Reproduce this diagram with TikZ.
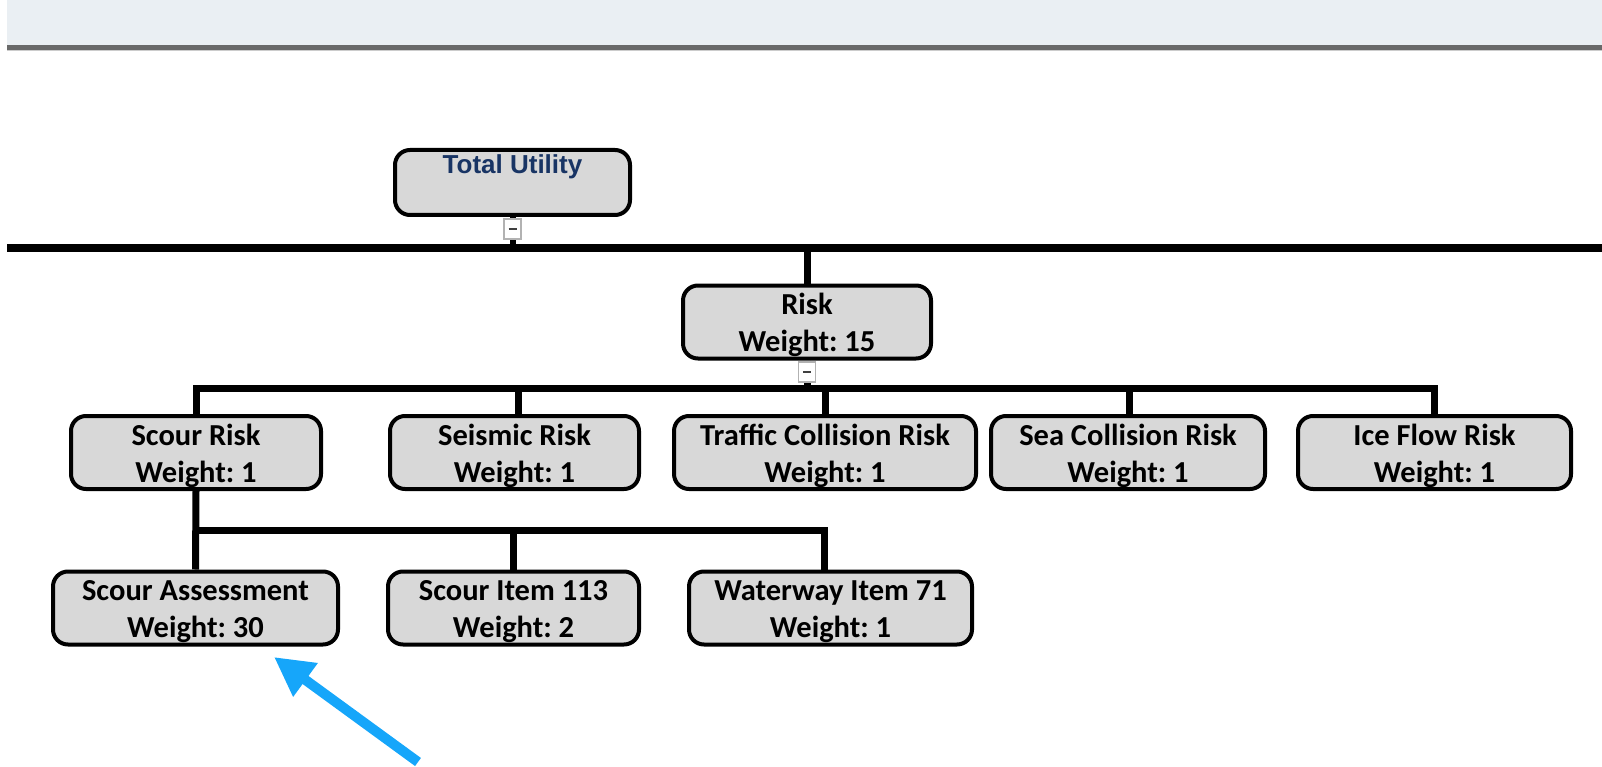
\documentclass[tikz,border=0pt]{standalone}
\usepackage{fontspec}
\newfontfamily\carl{Carlito}
\newfontfamily\libsans{Liberation Sans}
\usetikzlibrary{arrows.meta}
\definecolor{boxgray}{RGB}{216,216,216}
\definecolor{tublue}{RGB}{24,52,100}
\definecolor{hdrband}{RGB}{234,239,243}
\definecolor{hdrline}{RGB}{105,105,105}
\definecolor{arrblue}{RGB}{22,166,250}
\newcommand{\topstrut}{\rule{0pt}{28pt}}
\newcommand{\botstrut}{\rule[-6pt]{0pt}{6pt}}
\frenchspacing
\begin{document}
\begin{tikzpicture}[x=1pt,y=-1pt,
  nodebox/.style={draw=black, line width=4pt, fill=boxgray, rounded corners=15pt,
    minimum height=73pt, inner sep=0pt, align=center,
    font=\carl\bfseries\fontsize{30.5}{37}\selectfont\frenchspacing},
  conn/.style={draw=black, line width=7pt},
  colbox/.style={draw=gray!60, fill=white, line width=1.5pt, minimum width=17pt,
    minimum height=20pt, inner sep=0pt}]
\useasboundingbox (0,0) rectangle (1602,767);
% header band
\fill[hdrband] (7,0) rectangle (1602,45);
\fill[hdrline] (7,45) rectangle (1602,50);
\fill[gray!40] (7,50) rectangle (1602,51);

% nodes
\node[nodebox, minimum width=235pt, minimum height=65pt, text height=24pt, text depth=41pt,
  anchor=north, font=\libsans\bfseries\fontsize{26}{30}\selectfont, text=tublue]
  (tu) at (512.5,148) {Total Utility};
\node[nodebox, minimum width=248pt] (risk) at (807,322) {\topstrut Risk\\Weight: 15\botstrut};

\node[nodebox, minimum width=250pt] (scour) at (196,452.5) {\topstrut Scour Risk\\Weight: 1\botstrut};
\node[nodebox, minimum width=249pt] (seis) at (514.5,452.5) {\topstrut Seismic Risk\\Weight: 1\botstrut};
\node[nodebox, minimum width=302pt] (traf) at (825,452.5) {\topstrut Traffic Collision Risk\\Weight: 1\botstrut};
\node[nodebox, minimum width=274pt] (sea) at (1128,452.5) {\topstrut Sea Collision Risk\\Weight: 1\botstrut};
\node[nodebox, minimum width=273pt] (ice) at (1434.5,452.5) {\topstrut Ice Flow Risk\\Weight: 1\botstrut};

\node[nodebox, minimum width=285pt] (sa) at (195.5,608) {\topstrut Scour Assessment\\Weight: 30\botstrut};
\node[nodebox, minimum width=251pt] (si) at (513.5,608) {\topstrut Scour Item 113\\Weight: 2\botstrut};
\node[nodebox, minimum width=283pt] (ww) at (830.5,608) {\topstrut Waterway Item 71\\Weight: 1\botstrut};

% connectors
\coordinate (m0) at (7,248);
\coordinate (m1) at (1602,248);
\draw[conn, line width=8pt] (m0) -- (m1);
\draw[conn, line width=6pt] (tu.south) -- (tu.south |- m0);
\draw[conn] (risk.north) -- (risk.north |- m0);

\coordinate (a0) at (0,388);
\coordinate (s2) at (518,388);
\coordinate (s4) at (1129,388);
\draw[conn] (scour.north) -- (scour.north |- a0) -- (ice.north |- a0) -- (ice.north);
\draw[conn] (risk.south) -- (risk.south |- a0);
\draw[conn] (s2) -- (s2 |- seis.north);
\draw[conn] (traf.north |- a0) -- (traf.north);
\draw[conn] (s4) -- (s4 |- sea.north);

\coordinate (b2) at (513,530);
\coordinate (b3) at (824,530);
\draw[conn] (scour.south) -- (sa.north);
\draw[conn] (scour.south |- b3) -- (b3) -- (b3 |- ww.north);
\draw[conn] (b2) -- (b2 |- si.north);

% collapse markers
\node[colbox] (c1) at (512.5,229) {\textcolor{darkgray}{\rule{8pt}{2pt}}};
\node[colbox] (c2) at (807,372) {\textcolor{darkgray}{\rule{8pt}{2pt}}};

% blue arrow
\coordinate (at) at (418,762);
\coordinate (ah) at (274,657);
\draw[arrblue, line width=10pt, -{Triangle[length=39pt,width=39pt]}] (at) -- (ah);
\end{tikzpicture}
\end{document}
